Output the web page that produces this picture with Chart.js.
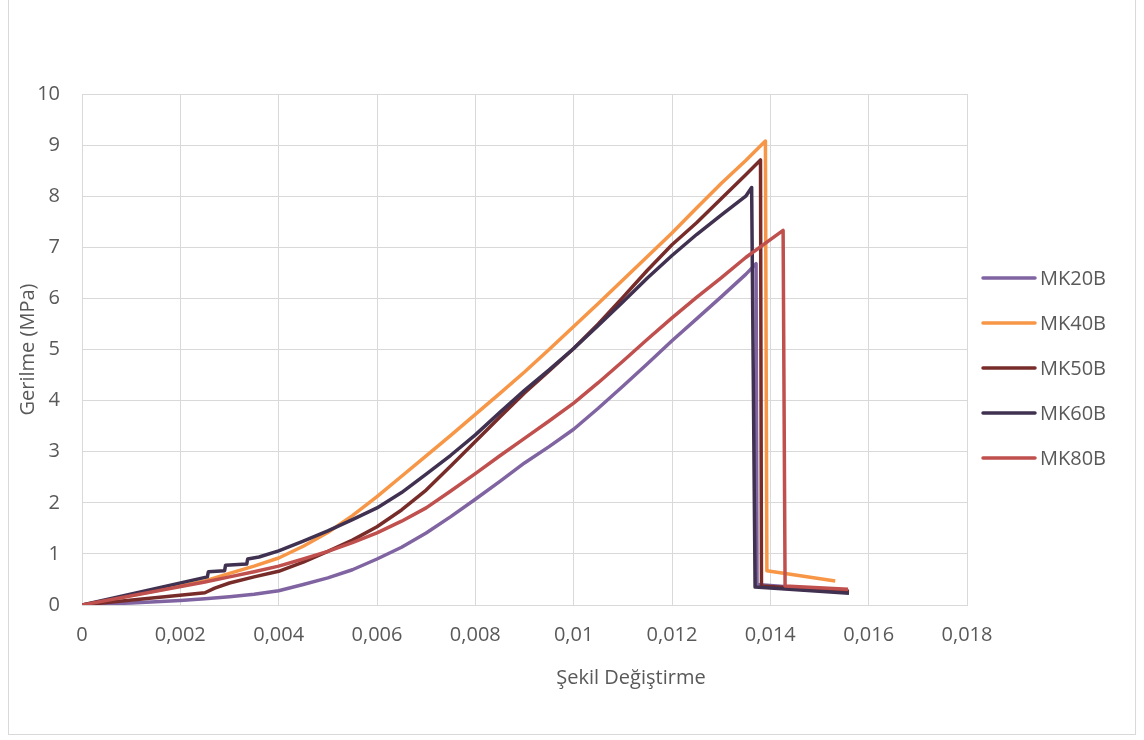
<!DOCTYPE html>
<html>
<head>
<meta charset="utf-8">
<script src="https://cdn.jsdelivr.net/npm/chart.js@4.4.0/dist/chart.umd.min.js"></script>
<style>
  html, body { margin: 0; padding: 0; background: #fff; }
  #frame {
    position: absolute; left: 8px; top: -1px; width: 1128px; height: 736px;
    border: 1px solid #d9d9d9; box-sizing: border-box;
  }
  #wrap { position: absolute; left: 0; top: 0; width: 1144px; height: 740px; }
</style>
</head>
<body>
<div id="frame"></div>
<div id="wrap"><canvas id="stressChart" width="1144" height="740"></canvas></div>
<script>
// Tick labels (comma decimal separator)
const xTickLabels = ['0', '0,002', '0,004', '0,006', '0,008', '0,01', '0,012', '0,014', '0,016', '0,018'];
const yTickLabels = ['0', '1', '2', '3', '4', '5', '6', '7', '8', '9', '10'];

const seriesNames = ['MK20B', 'MK40B', 'MK50B', 'MK60B', 'MK80B'];
const seriesColors = ['#8064a2', '#f79646', '#772c2a', '#403151', '#c0504d'];

// Strain / stress readings per specimen
const strainMK20B = [0, 0.001, 0.002, 0.0025, 0.003, 0.0035, 0.004, 0.0045, 0.005, 0.0055, 0.006, 0.0065, 0.007, 0.0075, 0.008, 0.0085, 0.009, 0.0095, 0.01, 0.0105, 0.011, 0.0115, 0.012, 0.0125, 0.013, 0.0135, 0.01371, 0.01373, 0.01555];
const stressMK20B = [0, 0.04, 0.09, 0.12, 0.16, 0.21, 0.28, 0.4, 0.53, 0.69, 0.9, 1.13, 1.41, 1.73, 2.07, 2.42, 2.78, 3.1, 3.44, 3.85, 4.28, 4.72, 5.17, 5.6, 6.03, 6.47, 6.68, 0.4, 0.27];

const strainMK40B = [0, 0.002, 0.0025, 0.003, 0.0035, 0.004, 0.0045, 0.005, 0.0055, 0.006, 0.0065, 0.007, 0.0075, 0.008, 0.0085, 0.009, 0.0095, 0.01, 0.0105, 0.011, 0.0115, 0.012, 0.0125, 0.013, 0.0135, 0.0139, 0.01393, 0.01532];
const stressMK40B = [0, 0.37, 0.47, 0.62, 0.76, 0.92, 1.15, 1.42, 1.75, 2.12, 2.52, 2.92, 3.32, 3.73, 4.14, 4.56, 5.0, 5.45, 5.9, 6.36, 6.82, 7.28, 7.77, 8.25, 8.7, 9.08, 0.67, 0.47];

const strainMK50B = [0, 0.0025, 0.0027, 0.003, 0.0035, 0.004, 0.0045, 0.005, 0.0055, 0.006, 0.0065, 0.007, 0.0075, 0.008, 0.0085, 0.009, 0.0095, 0.01, 0.0105, 0.011, 0.0115, 0.012, 0.0125, 0.013, 0.0135, 0.0138, 0.01382, 0.0156];
const stressMK50B = [0, 0.24, 0.33, 0.43, 0.55, 0.66, 0.84, 1.05, 1.27, 1.53, 1.86, 2.25, 2.72, 3.2, 3.68, 4.15, 4.58, 5.02, 5.5, 6.02, 6.55, 7.05, 7.48, 7.95, 8.42, 8.71, 0.37, 0.27];

const strainMK60B = [0, 0.00255, 0.00257, 0.0029, 0.00292, 0.00335, 0.00337, 0.0036, 0.004, 0.0045, 0.005, 0.0055, 0.006, 0.0065, 0.007, 0.0075, 0.008, 0.0085, 0.009, 0.0095, 0.01, 0.0105, 0.011, 0.0115, 0.012, 0.0125, 0.013, 0.0135, 0.01362, 0.01369, 0.0156];
const stressMK60B = [0, 0.55, 0.65, 0.67, 0.78, 0.8, 0.9, 0.94, 1.06, 1.25, 1.45, 1.67, 1.9, 2.2, 2.56, 2.93, 3.33, 3.77, 4.2, 4.6, 5.02, 5.47, 5.93, 6.4, 6.84, 7.25, 7.63, 8.0, 8.17, 0.35, 0.23];

const strainMK80B = [0, 0.0025, 0.003, 0.0035, 0.004, 0.0045, 0.005, 0.0055, 0.006, 0.0065, 0.007, 0.0075, 0.008, 0.0085, 0.009, 0.0095, 0.01, 0.0105, 0.011, 0.0115, 0.012, 0.0125, 0.013, 0.0135, 0.014, 0.01426, 0.0143, 0.01558];
const stressMK80B = [0, 0.45, 0.55, 0.65, 0.76, 0.9, 1.05, 1.22, 1.41, 1.64, 1.9, 2.23, 2.57, 2.92, 3.26, 3.6, 3.95, 4.35, 4.77, 5.2, 5.62, 6.02, 6.4, 6.8, 7.15, 7.33, 0.37, 0.31];

const strains = [strainMK20B, strainMK40B, strainMK50B, strainMK60B, strainMK80B];
const stresses = [stressMK20B, stressMK40B, stressMK50B, stressMK60B, stressMK80B];

const FONT = '"Open Sans", sans-serif';
const TEXT = '#595959';
const GRID = '#d9d9d9';

const datasets = seriesNames.map((name, i) => ({
  label: name,
  data: strains[i].map((x, k) => ({ x: x, y: stresses[i][k] })),
  borderColor: seriesColors[i],
  backgroundColor: seriesColors[i],
  borderWidth: 3.5,
  borderJoinStyle: 'round',
  pointRadius: 0,
  tension: 0,
  fill: false,
  order: seriesNames.length - 1 - i, // later series on top
}));

// x-axis title and right-hand legend
const extras = {
  id: 'extras',
  afterDraw(chart) {
    const ctx = chart.ctx;
    ctx.save();
    ctx.fillStyle = TEXT;
    ctx.font = '20px ' + FONT;
    ctx.textAlign = 'center';
    ctx.textBaseline = 'middle';
    ctx.fillText('Şekil Değiştirme', 631, 678);

    const top = 278, gap = 45;
    chart.data.datasets.forEach((ds, i) => {
      const y = top + i * gap;
      ctx.strokeStyle = ds.borderColor;
      ctx.lineWidth = 3.5;
      ctx.lineCap = 'round';
      ctx.beginPath();
      ctx.moveTo(983, y);
      ctx.lineTo(1035, y);
      ctx.stroke();
      ctx.textAlign = 'left';
      ctx.fillText(ds.label, 1040, y + 1);
    });
    ctx.restore();
  }
};

new Chart(document.getElementById('stressChart').getContext('2d'), {
  type: 'line',
  data: { datasets: datasets },
  options: {
    responsive: false,
    animation: false,
    layout: { padding: { left: 10, top: 94, right: 177, bottom: 75 } },
    plugins: { legend: { display: false }, tooltip: { enabled: false } },
    scales: {
      x: {
        type: 'linear',
        min: 0,
        max: 0.018,
        afterFit: (s) => { s.height = 60; },
        afterBuildTicks: (s) => { s.ticks = xTickLabels.map((t, i) => ({ value: i * 0.002 })); },
        ticks: {
          padding: 18,
          color: TEXT,
          font: { family: FONT, size: 20 },
          maxRotation: 0,
          autoSkip: false,
          callback: (v, i) => xTickLabels[i],
        },
        grid: { color: GRID, lineWidth: 1, drawTicks: false },
        border: { color: GRID, width: 1 },
      },
      y: {
        min: 0,
        max: 10,
        afterFit: (s) => { s.width = 72; },
        afterBuildTicks: (s) => { s.ticks = yTickLabels.map((t, i) => ({ value: i })); },
        ticks: {
          padding: 22,
          color: TEXT,
          font: { family: FONT, size: 20 },
          autoSkip: false,
          callback: (v, i) => yTickLabels[i],
        },
        grid: { color: GRID, lineWidth: 1, drawTicks: false },
        border: { color: GRID, width: 1 },
        title: {
          display: true,
          text: 'Gerilme (MPa)',
          color: TEXT,
          font: { family: FONT, size: 20 },
          padding: { top: 6, bottom: 0 },
        },
      },
    },
  },
  plugins: [extras],
});
</script>
</body>
</html>
